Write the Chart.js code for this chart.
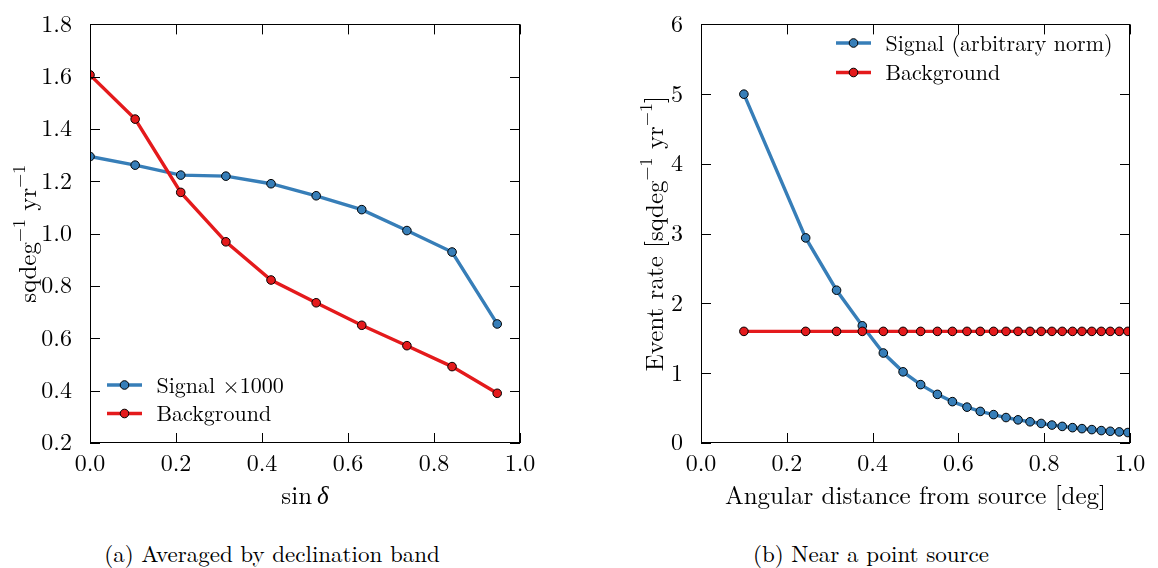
<!DOCTYPE html>
<html>
<head>
<meta charset="utf-8">
<script src="https://cdn.jsdelivr.net/npm/chart.js@4.4.1/dist/chart.umd.min.js"></script>
<style>
  body { margin: 0; background: #fff; }
  #wrap { position: relative; width: 1158px; height: 568px; overflow: hidden; background: #fff;
          font-family: 'Latin Modern Roman', 'Liberation Serif', serif; color: #000; }
  .box { position: absolute; top: 0; height: 520px; }
  .cap { position: absolute; top: 536px; font-size: 23px; white-space: nowrap; transform: translateX(-50%); }
</style>
</head>
<body>
<div id="wrap">
  <div class="box" style="left:0;width:579px"><canvas id="band"></canvas></div>
  <div class="box" style="left:627px;width:531px"><canvas id="point"></canvas></div>
  <div class="cap" style="left:272px">(a) Averaged by declination band</div>
  <div class="cap" style="left:871px">(b) Near a point source</div>
</div>
<script>
// (a) averaged by declination band
const bandSinDec = [0, 0.105, 0.211, 0.316, 0.421, 0.526, 0.632, 0.737, 0.842, 0.947];
const bandSignal = [1.295, 1.262, 1.224, 1.220, 1.191, 1.145, 1.092, 1.012, 0.930, 0.655];
const bandBackground = [1.607, 1.438, 1.158, 0.969, 0.823, 0.736, 0.650, 0.572, 0.492, 0.390];

// (b) near a point source
const srcDist = [0.100, 0.244, 0.316, 0.376, 0.425, 0.471, 0.512, 0.551, 0.586, 0.620, 0.651, 0.682, 0.711,
                 0.739, 0.767, 0.793, 0.818, 0.842, 0.866, 0.888, 0.911, 0.933, 0.954, 0.975, 0.995];
const srcSignal = [5.00, 2.94, 2.19, 1.68, 1.29, 1.02, 0.837, 0.697, 0.593, 0.514, 0.453, 0.407, 0.365,
                   0.332, 0.304, 0.280, 0.257, 0.238, 0.220, 0.206, 0.192, 0.178, 0.168, 0.159, 0.150];
const srcBackground = [1.6, 1.6, 1.6, 1.6, 1.6, 1.6, 1.6, 1.6, 1.6, 1.6, 1.6, 1.6, 1.6,
                       1.6, 1.6, 1.6, 1.6, 1.6, 1.6, 1.6, 1.6, 1.6, 1.6, 1.6, 1.6];

const BLUE = '#377eb8';
const RED = '#e41a1c';
const FONT = "'Latin Modern Roman', 'Liberation Serif', serif";
const TICK_SIZE = 24;
const TITLE_SIZE = 25;
const LEGEND_SIZE = 22;

function pts(xs, ys) {
  return xs.map((x, i) => ({ x: x, y: ys[i] }));
}

function series(label, xs, ys, color, order) {
  return {
    label: label,
    data: pts(xs, ys),
    borderColor: color,
    backgroundColor: color,
    borderWidth: 3.4,
    pointRadius: 4.3,
    pointBorderWidth: 1,
    pointBorderColor: '#000',
    pointBackgroundColor: color,
    tension: 0,
    clip: 0,
    order: order
  };
}

// pieces: [text, 'sup' | 'it' | undefined]
function richText(ctx, pieces, cx, cy, rot) {
  const base = TITLE_SIZE, small = Math.round(TITLE_SIZE * 0.7);
  const fontOf = k => k === 'sup' ? small + 'px ' + FONT : (k === 'it' ? 'italic ' : '') + base + 'px ' + FONT;
  let w = 0;
  pieces.forEach(p => { ctx.font = fontOf(p[1]); w += ctx.measureText(p[0]).width; });
  ctx.save();
  ctx.translate(cx, cy);
  ctx.rotate(rot);
  ctx.fillStyle = '#000';
  ctx.textBaseline = 'alphabetic';
  let x = -w / 2;
  const yb = base * 0.3;
  pieces.forEach(p => {
    ctx.font = fontOf(p[1]);
    ctx.fillText(p[0], x, p[1] === 'sup' ? yb - base * 0.42 : yb);
    x += ctx.measureText(p[0]).width;
  });
  ctx.restore();
}

// inward ticks on all four sides, the frame and the axis titles
const frameTicks = {
  id: 'frameTicks',
  afterDatasetsDraw(chart, args, opts) {
    const { ctx, chartArea: a, scales: { x, y } } = chart;
    const len = 10;
    ctx.save();
    ctx.strokeStyle = '#000';
    ctx.lineWidth = 1;
    ctx.beginPath();
    x.ticks.forEach(t => {
      const px = Math.round(x.getPixelForValue(t.value)) + 0.5;
      ctx.moveTo(px, a.bottom); ctx.lineTo(px, a.bottom - len);
      ctx.moveTo(px, a.top); ctx.lineTo(px, a.top + len);
    });
    y.ticks.forEach(t => {
      const py = Math.round(y.getPixelForValue(t.value)) + 0.5;
      ctx.moveTo(a.left, py); ctx.lineTo(a.left + len, py);
      ctx.moveTo(a.right, py); ctx.lineTo(a.right - len, py);
    });
    ctx.stroke();
    ctx.strokeRect(Math.round(a.left) + 0.5, Math.round(a.top) + 0.5,
                   Math.round(a.right - a.left) - 1, Math.round(a.bottom - a.top) - 1);
    ctx.restore();
    richText(ctx, opts.xTitle, (a.left + a.right) / 2, opts.xTitleY, 0);
    richText(ctx, opts.yTitle, opts.yTitleX, (a.top + a.bottom) / 2, -Math.PI / 2);
  }
};

// matplotlib-like legend inside the axes
const boxLegend = {
  id: 'boxLegend',
  afterDraw(chart, args, opts) {
    const { ctx } = chart;
    ctx.save();
    ctx.font = LEGEND_SIZE + 'px ' + FONT;
    ctx.textBaseline = 'middle';
    chart.data.datasets.forEach((ds, i) => {
      const yy = opts.y + i * opts.gap;
      ctx.strokeStyle = ds.borderColor;
      ctx.lineWidth = 3.4;
      ctx.beginPath();
      ctx.moveTo(opts.x, yy); ctx.lineTo(opts.x + 35, yy);
      ctx.stroke();
      ctx.beginPath();
      ctx.arc(opts.x + 17.5, yy, 4.3, 0, Math.PI * 2);
      ctx.fillStyle = ds.pointBackgroundColor;
      ctx.fill();
      ctx.lineWidth = 1;
      ctx.strokeStyle = '#000';
      ctx.stroke();
      ctx.fillStyle = '#000';
      ctx.fillText(ds.label, opts.x + 49.5, yy + 1);
    });
    ctx.restore();
  }
};

function makeChart(id, cfg) {
  return new Chart(document.getElementById(id), {
    type: 'line',
    data: { datasets: cfg.datasets },
    plugins: [frameTicks, boxLegend],
    options: {
      responsive: true,
      maintainAspectRatio: false,
      animation: false,
      layout: { padding: { left: 0, top: 15, right: cfg.padRight, bottom: 0 } },
      plugins: {
        legend: { display: false },
        tooltip: { enabled: false },
        boxLegend: cfg.legend,
        frameTicks: { xTitle: cfg.xTitle, yTitle: cfg.yTitle, xTitleY: 496, yTitleX: 28 }
      },
      scales: {
        x: {
          type: 'linear', min: 0, max: 1,
          grid: { display: false }, border: { display: false },
          ticks: { stepSize: 0.2, color: '#000', font: { family: FONT, size: TICK_SIZE }, padding: -2,
                   maxRotation: 0, autoSkip: false, callback: v => v.toFixed(1) },
          afterFit: s => { s.height = 77; }
        },
        y: {
          type: 'linear', min: cfg.yMin, max: cfg.yMax,
          grid: { display: false }, border: { display: false },
          ticks: { stepSize: cfg.yStep, color: '#000', font: { family: FONT, size: TICK_SIZE }, padding: 10,
                   autoSkip: false, callback: cfg.yFmt },
          afterFit: s => { s.width = cfg.yWidth; }
        }
      }
    }
  });
}

makeChart('band', {
  datasets: [
    series('Signal \u00d71000', bandSinDec, bandSignal, BLUE, 1),
    series('Background', bandSinDec, bandBackground, RED, 0)
  ],
  padRight: 59, yWidth: 90,
  yMin: 0.2, yMax: 1.8, yStep: 0.2, yFmt: v => v.toFixed(1),
  xTitle: [['sin\u2009'], ['\u03b4', 'it']],
  yTitle: [['sqdeg'], ['\u22121', 'sup'], [' yr'], ['\u22121', 'sup']],
  legend: { x: 107, y: 385, gap: 28.5 }
});

makeChart('point', {
  datasets: [
    series('Signal (arbitrary norm)', srcDist, srcSignal, BLUE, 1),
    series('Background', srcDist, srcBackground, RED, 0)
  ],
  padRight: 28, yWidth: 74,
  yMin: 0, yMax: 6, yStep: 1, yFmt: v => String(Math.round(v)),
  xTitle: [['Angular distance from source [deg]']],
  yTitle: [['Event rate [sqdeg'], ['\u22121', 'sup'], [' yr'], ['\u22121', 'sup'], [']']],
  legend: { x: 209, y: 43, gap: 29.5 }
});
</script>
</body>
</html>
